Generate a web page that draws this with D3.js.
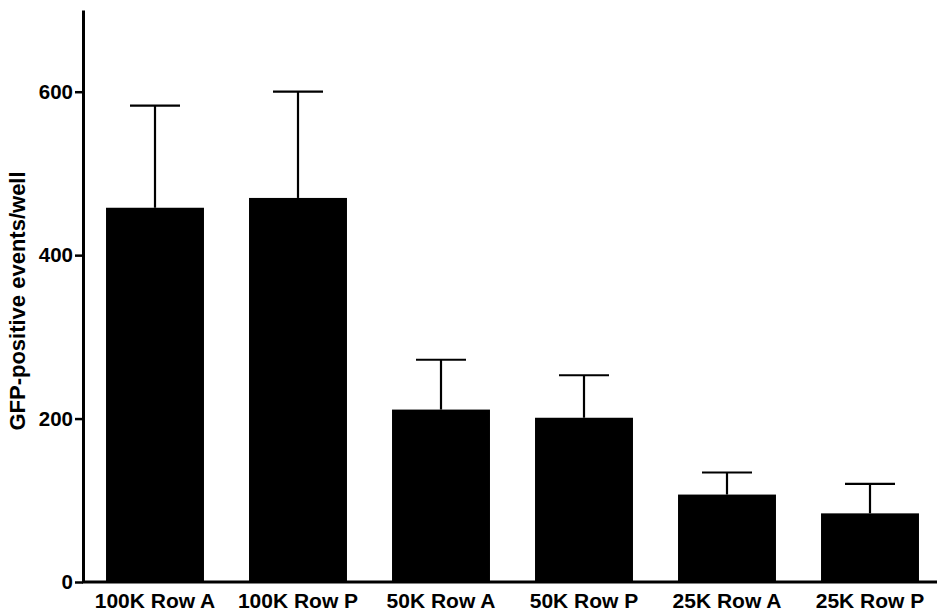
<!DOCTYPE html>
<html>
<head>
<meta charset="utf-8">
<script src="https://cdn.jsdelivr.net/npm/d3@7"></script>
<style>
  html, body { margin: 0; padding: 0; background: #fff; }
  svg { display: block; }
  text { font-family: "Liberation Sans", Arial, sans-serif; font-weight: bold; fill: #000; }
</style>
</head>
<body>
<svg id="chart" width="937" height="615"></svg>
<script>
const categories = ["100K Row A", "100K Row P", "50K Row A", "50K Row P", "25K Row A", "25K Row P"];
const means = [458, 470, 211, 201, 107, 84];
const errors = [125, 130, 61, 52, 27, 36];
const yTicks = [0, 200, 400, 600];
const yLabel = "GFP-positive events/well";

const svg = d3.select("#chart");
const x = d3.scaleBand().domain(categories).range([84, 941]).paddingInner(0.315).paddingOuter(0.154);
const y = d3.scaleLinear().domain([0, 700]).range([582, 10]);

// bars
svg.append("g").selectAll("rect").data(categories).join("rect")
  .attr("x", d => x(d))
  .attr("width", x.bandwidth())
  .attr("y", (d, i) => y(means[i]))
  .attr("height", (d, i) => y(0) - y(means[i]))
  .attr("fill", "#000");

// error bars
const eb = svg.append("g").attr("stroke", "#000").attr("stroke-width", 2.2);
categories.forEach((c, i) => {
  const cx = x(c) + x.bandwidth() / 2;
  eb.append("line").attr("x1", cx).attr("x2", cx).attr("y1", y(means[i])).attr("y2", y(means[i] + errors[i]));
  eb.append("line").attr("x1", cx - 25).attr("x2", cx + 25).attr("y1", y(means[i] + errors[i])).attr("y2", y(means[i] + errors[i]));
});

// y axis
const yAxis = svg.append("g").attr("transform", "translate(83,0)")
  .call(d3.axisLeft(y).tickValues(yTicks).tickSize(8).tickSizeOuter(0).tickPadding(2));
yAxis.select(".domain").attr("stroke-width", 3);
yAxis.selectAll(".tick line").attr("stroke-width", 2.5);
yAxis.selectAll(".tick text").attr("font-size", 20.5).style("font-family", "'Liberation Sans', Arial, sans-serif").style("font-weight", "bold");

// x axis
const xAxis = svg.append("g").attr("transform", "translate(0,582)")
  .call(d3.axisBottom(x).tickSize(0).tickSizeOuter(0).tickPadding(11));
xAxis.select(".domain").attr("stroke-width", 3).attr("d", "M82,0H937");
xAxis.selectAll(".tick text").attr("font-size", 21).style("font-family", "'Liberation Sans', Arial, sans-serif").style("font-weight", "bold");

// y label
svg.append("text")
  .attr("transform", "translate(25,301) rotate(-90)")
  .attr("text-anchor", "middle")
  .attr("font-size", 22)
  .text(yLabel);
</script>
</body>
</html>
